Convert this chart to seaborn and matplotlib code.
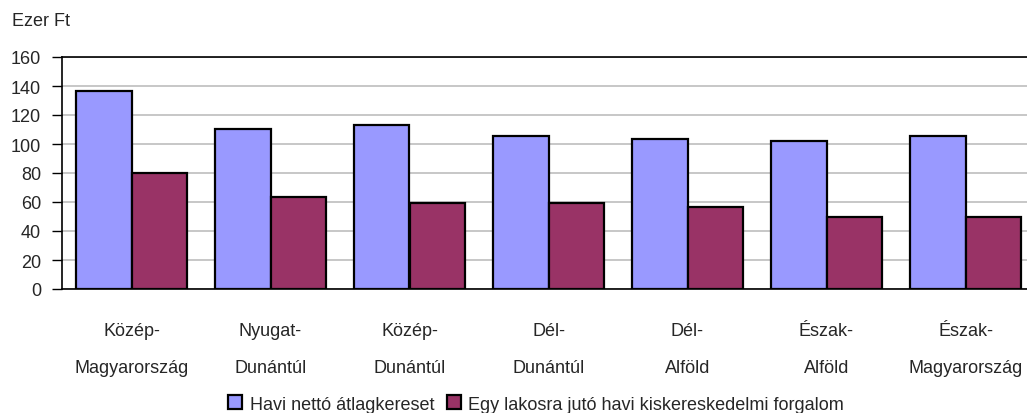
import matplotlib
matplotlib.use("Agg")
import matplotlib.pyplot as plt
import pandas as pd
import seaborn as sns

regions = ["Közép-\nMagyarország", "Nyugat-\nDunántúl", "Közép-\nDunántúl", "Dél-\nDunántúl",
           "Dél-\nAlföld", "Észak-\nAlföld", "Észak-\nMagyarország"]
series = ["Havi nettó átlagkereset", "Egy lakosra jutó havi kiskereskedelmi forgalom"]
avg_wage = [136.5, 110.2, 113.0, 105.8, 103.3, 101.8, 105.8]
retail = [80.0, 63.3, 59.2, 59.2, 56.4, 49.8, 49.8]
colors = ["#9999FF", "#993366"]

df = pd.DataFrame({
    "region": regions * 2,
    "series": [series[0]] * len(regions) + [series[1]] * len(regions),
    "value": avg_wage + retail,
})

sns.set_theme(style="white")
plt.rcParams["font.family"] = ["Liberation Sans", "DejaVu Sans"]

fig = plt.figure(figsize=(10.27, 4.14), dpi=100)
# plot area runs past the right edge, as in the original
ax = fig.add_axes([62 / 1027, 1 - 290 / 414, 973 / 1027, 232 / 414])

sns.barplot(data=df, x="region", y="value", hue="series", palette=colors,
            width=0.8, gap=0, edgecolor="black", linewidth=1.6, saturation=1,
            ax=ax, zorder=3)

ax.set_ylim(0, 160)
ax.set_yticks(range(0, 161, 20))
ax.yaxis.grid(True, color="#bdbdbd", linewidth=1.2, zorder=0)
ax.set_xlabel("")
ax.set_ylabel("")
for side in ["left", "bottom", "top"]:
    ax.spines[side].set_color("black")
    ax.spines[side].set_linewidth(1.2)
ax.spines["right"].set_visible(False)

ax.tick_params(axis="y", labelsize=13, length=7, width=1, color="black", direction="out", pad=8, left=True)
ax.tick_params(axis="x", labelsize=13, length=0, pad=24)
for lbl in ax.get_xticklabels():
    lbl.set_linespacing(2.55)

fig.text(12 / 1027, 1 - 22 / 414, "Ezer Ft", fontsize=13, va="center", ha="left")

ax.legend_.remove()
handles, labels = ax.get_legend_handles_labels()
fig.legend(handles, labels, loc="center", bbox_to_anchor=(536 / 1027, 1 - 405 / 414),
           ncol=2, frameon=False, fontsize=13, handlelength=0.8, handleheight=0.8,
           handletextpad=0.4, columnspacing=0.7, borderpad=0, borderaxespad=0)

fig.savefig("out.png", dpi=100)
